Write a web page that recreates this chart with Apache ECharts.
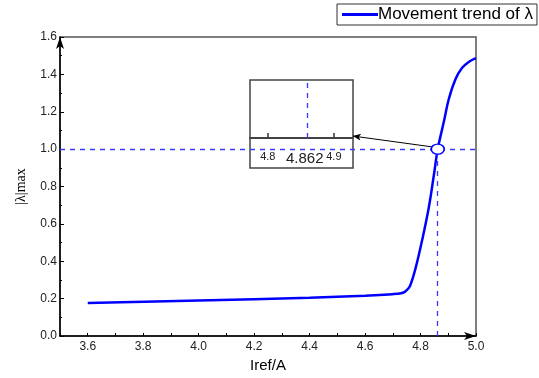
<!DOCTYPE html>
<html>
<head>
<meta charset="utf-8">
<script src="https://cdn.jsdelivr.net/npm/echarts@6/dist/echarts.min.js"></script>
<style>
  html, body { margin: 0; padding: 0; background: #fff; }
  #chart { width: 539px; height: 378px; }
</style>
</head>
<body>
<div id="chart"></div>
<script>
// curve
const irefValues = [3.6, 4.0, 4.4, 4.6, 4.7, 4.73, 4.745, 4.762, 4.784, 4.806, 4.83, 4.848, 4.862, 4.884, 4.902, 4.926, 4.95, 4.975, 5.0];
const lambdaValues = [0.177, 0.19, 0.205, 0.216, 0.224, 0.229, 0.238, 0.268, 0.374, 0.514, 0.689, 0.86, 1.0, 1.146, 1.268, 1.374, 1.435, 1.468, 1.487];

const crossIref = 4.862;
const crossLambda = 1.0;
const insetTicks = [4.8, 4.9];
const insetLabels = [4.8, 4.862, 4.9];
const seriesName = 'Movement trend of λ';

const blue = '#0000ff';
const dashBlue = '#3a3aff';
const font = 'Arial, "Liberation Sans", sans-serif';

const chart = echarts.init(document.getElementById('chart'));

const option = {
  animation: false,
  legend: {
    left: 337,
    top: 4,
    padding: [2, 4, 2, 5],
    itemWidth: 36,
    itemHeight: 3,
    icon: 'rect',
    borderColor: '#333',
    borderWidth: 1,
    textStyle: { fontFamily: font, fontSize: 17, color: '#000', padding: [0, 0, 0, -5] },
    data: [seriesName]
  },
  grid: [
    { left: 60, right: 63, top: 37, bottom: 37, show: true, borderColor: '#555', borderWidth: 1.5 },
    { left: 250, top: 80, width: 103, height: 58, show: true, borderColor: '#444', borderWidth: 1.5 }
  ],
  xAxis: [
    {
      type: 'value',
      gridIndex: 0,
      min: 3.5,
      max: 5.0,
      interval: 0.1,
      name: 'Iref/A',
      nameLocation: 'middle',
      nameGap: 22,
      nameTextStyle: { fontFamily: font, fontSize: 15, color: '#000' },
      axisLine: { onZero: false, symbol: ['none', 'arrow'], symbolSize: [6, 12], lineStyle: { color: '#000', width: 1.5 } },
      axisTick: { inside: true, length: 3, lineStyle: { color: '#000' } },
      axisLabel: {
        margin: 5,
        fontFamily: font,
        fontSize: 12,
        color: '#222',
        formatter: function (v) {
          return Math.round(v * 10) % 2 === 0 ? v.toFixed(1) : '';
        }
      },
      splitLine: { show: false }
    },
    {
      type: 'value',
      gridIndex: 1,
      min: 4.773,
      max: 4.929,
      axisLine: { lineStyle: { color: '#333', width: 1.5 } },
      axisTick: { inside: true, length: 5, customValues: insetTicks, lineStyle: { color: '#333', width: 1.5 } },
      axisLabel: {
        customValues: insetLabels,
        hideOverlap: false,
        margin: 13,
        fontFamily: font,
        fontSize: 11,
        color: '#222',
        formatter: function (v) {
          return Math.abs(v - crossIref) < 1e-6 ? '{big|' + v.toFixed(3) + '}' : v.toFixed(1);
        },
        rich: { big: { fontFamily: font, fontSize: 15, color: '#222', padding: [0, 8, 0, 0] } }
      },
      splitLine: { show: false }
    }
  ],
  yAxis: [
    {
      type: 'value',
      gridIndex: 0,
      min: 0,
      max: 1.6,
      interval: 0.2,
      name: '|λ|max',
      nameLocation: 'middle',
      nameGap: 32,
      nameTextStyle: { fontFamily: '"Liberation Serif", "DejaVu Serif", serif', fontSize: 14, color: '#000' },
      axisLine: { onZero: false, symbol: ['none', 'arrow'], symbolSize: [6, 12], lineStyle: { color: '#000', width: 1.5 } },
      axisTick: { inside: true, length: 4, lineStyle: { color: '#000' } },
      minorTick: { show: true, splitNumber: 2, length: 2, lineStyle: { color: '#000' } },
      axisLabel: {
        margin: 3,
        fontFamily: font,
        fontSize: 12,
        color: '#222',
        formatter: function (v) { return v.toFixed(1); }
      },
      splitLine: { show: false }
    },
    {
      type: 'value',
      gridIndex: 1,
      min: 0,
      max: 1,
      show: false
    }
  ],
  graphic: [
    {
      // lower part of the inset frame, under its axis
      type: 'rect',
      shape: { x: 250, y: 138, width: 103, height: 30 },
      style: { fill: 'none', stroke: '#444', lineWidth: 1.5 },
      z: 5
    }
  ],
  series: [
    {
      name: seriesName,
      type: 'line',
      xAxisIndex: 0,
      yAxisIndex: 0,
      data: irefValues.map((x, i) => [x, lambdaValues[i]]),
      smooth: 0.35,
      symbol: 'none',
      lineStyle: { color: blue, width: 2.5 },
      itemStyle: { color: blue },
      markLine: {
        silent: true,
        symbol: ['none', 'none'],
        label: { show: false },
        lineStyle: { color: dashBlue, type: [5, 5], width: 1.3 },
        data: [
          { yAxis: crossLambda },
          [{ coord: [crossIref, 0] }, { coord: [crossIref, crossLambda] }]
        ]
      },
      z: 3
    },
    {
      // pointer from the crossing to the inset
      type: 'line',
      xAxisIndex: 0,
      yAxisIndex: 0,
      data: [],
      markLine: {
        silent: true,
        symbol: ['none', 'arrow'],
        symbolSize: [5, 8],
        label: { show: false },
        lineStyle: { color: '#000', type: 'solid', width: 1 },
        data: [[{ coord: [4.842, 1.012] }, { coord: [4.556, 1.07] }]]
      }
    },
    {
      type: 'scatter',
      xAxisIndex: 0,
      yAxisIndex: 0,
      data: [[crossIref, crossLambda]],
      symbol: 'circle',
      symbolSize: [13, 10],
      itemStyle: { color: '#fff', borderColor: blue, borderWidth: 1.5, opacity: 1 },
      z: 10
    },
    {
      // dashed marker inside the inset
      type: 'line',
      xAxisIndex: 1,
      yAxisIndex: 1,
      data: [],
      markLine: {
        silent: true,
        symbol: ['none', 'none'],
        label: { show: false },
        lineStyle: { color: dashBlue, type: [5, 5], width: 1.3 },
        data: [{ xAxis: crossIref }]
      }
    }
  ]
};

chart.setOption(option);
</script>
</body>
</html>
